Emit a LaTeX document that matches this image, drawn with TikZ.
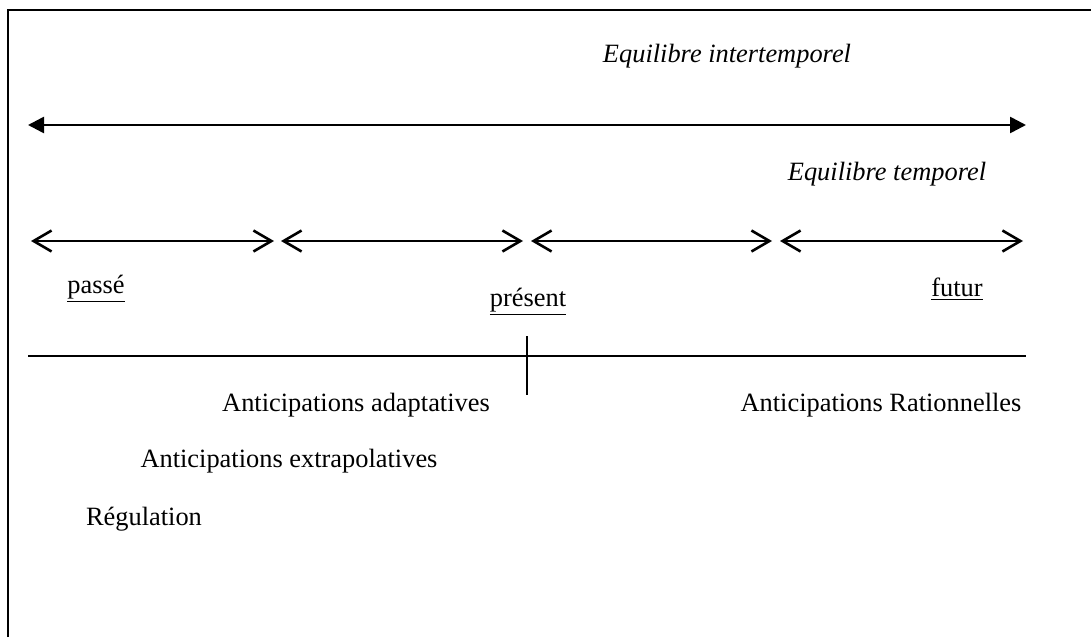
\documentclass[tikz,border=0pt]{standalone}
\usepackage{fontspec}
\setmainfont{Liberation Serif}
\usetikzlibrary{arrows.meta,positioning}

\begin{document}
\begin{tikzpicture}[
    x=0.5pt, y=-0.5pt,
    label/.style={font=\fontsize{13.2}{16}\selectfont, inner sep=0pt},
    title/.style={font=\fontsize{13.2}{16}\selectfont\itshape, inner sep=0pt},
    span/.style={line width=1.3pt, {Straight Barb[length=9pt,width=10.5pt]}-{Straight Barb[length=9pt,width=10.5pt]}},
    full/.style={line width=1.3pt, {Triangle[length=8pt,width=8pt]}-{Triangle[length=8pt,width=8pt]}}
]
\useasboundingbox (0,0) rectangle (1091,637);

% Frame
\draw[line width=1pt] (8,637) -- (8,10) -- (1091,10);

% Intertemporal equilibrium
\node[title] (inter) at (727,56) {Equilibre intertemporel};
\coordinate (il) at (28,125);
\coordinate (ir) at (1026,125);
\draw[full] (il) -- (ir);

% Temporal equilibrium
\node[title] (temp) at (887,174) {Equilibre temporel};
\coordinate (t0) at (31,241);
\coordinate (t1) at (274,241);
\coordinate (t2) at (281,241);
\coordinate (t3) at (523,241);
\coordinate (t4) at (531,241);
\coordinate (t5) at (772,241);
\coordinate (t6) at (780,241);
\coordinate (t7) at (1023,241);
\draw[span] (t0) -- (t1);
\draw[span] (t2) -- (t3);
\draw[span] (t4) -- (t5);
\draw[span] (t6) -- (t7);

% Time labels
\node[label] (past) at (96,289) {\underline{passé}};
\node[label] (now) at (528,302) {\underline{présent}};
\node[label] (fut) at (957,289) {\underline{futur}};

% Axis
\coordinate (al) at (28,356);
\coordinate (ar) at (1026,356);
\coordinate (nt) at (527,336);
\coordinate (nb) at (527,395);
\draw[line width=1pt] (al) -- (ar);
\draw[line width=1pt] (nt) -- (nb);

% Anticipations
\node[label] (adapt) at (356,405) {Anticipations adaptatives};
\node[label] (ratio) at (881,405) {Anticipations Rationnelles};
\node[label] (extra) at (289,461) {Anticipations extrapolatives};
\node[label] (regul) at (144,519) {Régulation};

\end{tikzpicture}
\end{document}
